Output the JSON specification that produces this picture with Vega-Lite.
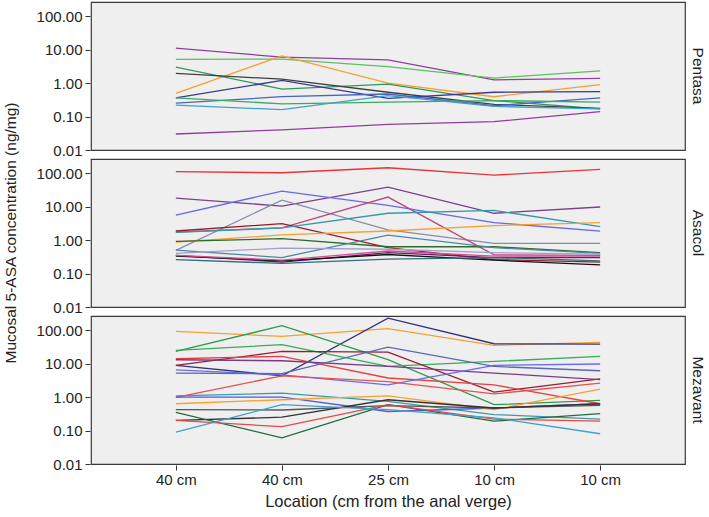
{
  "$schema": "https://vega.github.io/schema/vega-lite/v6.json",
  "padding": {"left": 3, "top": 1, "right": 0, "bottom": 2},
  "background": "white",
  "config": {
    "font": "Liberation Sans",
    "view": {"fill": "#EFEFEF", "stroke": "#3A3A3A", "strokeWidth": 1.2},
    "axis": {"grid": false, "domain": false, "tickColor": "#333333", "tickSize": 5, "labelColor": "#222222", "labelFontSize": 15, "labelFont": "Liberation Sans", "titleFont": "Liberation Sans", "titleFontSize": 16.5, "titleFontWeight": "normal", "titleColor": "#222222", "labelPadding": 3},
    "header": {"labelFont": "Liberation Sans", "labelFontSize": 15.5, "labelColor": "#222222", "titleFont": "Liberation Sans", "titleFontSize": 15.5, "titleFontWeight": "normal", "titleColor": "#222222"}
  },
  "data": {"values": [
    {"drug":"Pentasa","id":"P1","pos":1,"value":11.1},{"drug":"Pentasa","id":"P1","pos":2,"value":5.9},{"drug":"Pentasa","id":"P1","pos":3,"value":4.9},{"drug":"Pentasa","id":"P1","pos":4,"value":1.25},{"drug":"Pentasa","id":"P1","pos":5,"value":1.38},
    {"drug":"Pentasa","id":"P2","pos":1,"value":5.1},{"drug":"Pentasa","id":"P2","pos":2,"value":5.2},{"drug":"Pentasa","id":"P2","pos":3,"value":3.1},{"drug":"Pentasa","id":"P2","pos":4,"value":1.41},{"drug":"Pentasa","id":"P2","pos":5,"value":2.3},
    {"drug":"Pentasa","id":"P3","pos":1,"value":0.49},{"drug":"Pentasa","id":"P3","pos":2,"value":6.5},{"drug":"Pentasa","id":"P3","pos":3,"value":1.0},{"drug":"Pentasa","id":"P3","pos":4,"value":0.39},{"drug":"Pentasa","id":"P3","pos":5,"value":0.89},
    {"drug":"Pentasa","id":"P4","pos":1,"value":3.0},{"drug":"Pentasa","id":"P4","pos":2,"value":0.66},{"drug":"Pentasa","id":"P4","pos":3,"value":0.93},{"drug":"Pentasa","id":"P4","pos":4,"value":0.3},{"drug":"Pentasa","id":"P4","pos":5,"value":0.17},
    {"drug":"Pentasa","id":"P5","pos":1,"value":1.94},{"drug":"Pentasa","id":"P5","pos":2,"value":1.3},{"drug":"Pentasa","id":"P5","pos":3,"value":0.53},{"drug":"Pentasa","id":"P5","pos":4,"value":0.23},{"drug":"Pentasa","id":"P5","pos":5,"value":0.175},
    {"drug":"Pentasa","id":"P6","pos":1,"value":0.36},{"drug":"Pentasa","id":"P6","pos":2,"value":1.2},{"drug":"Pentasa","id":"P6","pos":3,"value":0.35},{"drug":"Pentasa","id":"P6","pos":4,"value":0.53},{"drug":"Pentasa","id":"P6","pos":5,"value":0.55},
    {"drug":"Pentasa","id":"P7","pos":1,"value":0.25},{"drug":"Pentasa","id":"P7","pos":2,"value":0.39},{"drug":"Pentasa","id":"P7","pos":3,"value":0.47},{"drug":"Pentasa","id":"P7","pos":4,"value":0.21},{"drug":"Pentasa","id":"P7","pos":5,"value":0.36},
    {"drug":"Pentasa","id":"P8","pos":1,"value":0.36},{"drug":"Pentasa","id":"P8","pos":2,"value":0.24},{"drug":"Pentasa","id":"P8","pos":3,"value":0.27},{"drug":"Pentasa","id":"P8","pos":4,"value":0.3},{"drug":"Pentasa","id":"P8","pos":5,"value":0.27},
    {"drug":"Pentasa","id":"P9","pos":1,"value":0.22},{"drug":"Pentasa","id":"P9","pos":2,"value":0.16},{"drug":"Pentasa","id":"P9","pos":3,"value":0.42},{"drug":"Pentasa","id":"P9","pos":4,"value":0.2},{"drug":"Pentasa","id":"P9","pos":5,"value":0.17},
    {"drug":"Pentasa","id":"P10","pos":1,"value":0.03},{"drug":"Pentasa","id":"P10","pos":2,"value":0.04},{"drug":"Pentasa","id":"P10","pos":3,"value":0.058},{"drug":"Pentasa","id":"P10","pos":4,"value":0.07},{"drug":"Pentasa","id":"P10","pos":5,"value":0.14},

    {"drug":"Asacol","id":"A1","pos":1,"value":110},{"drug":"Asacol","id":"A1","pos":2,"value":102},{"drug":"Asacol","id":"A1","pos":3,"value":144},{"drug":"Asacol","id":"A1","pos":4,"value":87},{"drug":"Asacol","id":"A1","pos":5,"value":129},
    {"drug":"Asacol","id":"A2","pos":1,"value":17.9},{"drug":"Asacol","id":"A2","pos":2,"value":10.3},{"drug":"Asacol","id":"A2","pos":3,"value":38},{"drug":"Asacol","id":"A2","pos":4,"value":6.3},{"drug":"Asacol","id":"A2","pos":5,"value":9.7},
    {"drug":"Asacol","id":"A3","pos":1,"value":5.5},{"drug":"Asacol","id":"A3","pos":2,"value":29},{"drug":"Asacol","id":"A3","pos":3,"value":10.8},{"drug":"Asacol","id":"A3","pos":4,"value":3.3},{"drug":"Asacol","id":"A3","pos":5,"value":1.85},
    {"drug":"Asacol","id":"A4","pos":1,"value":0.49},{"drug":"Asacol","id":"A4","pos":2,"value":15.6},{"drug":"Asacol","id":"A4","pos":3,"value":2.0},{"drug":"Asacol","id":"A4","pos":4,"value":0.8},{"drug":"Asacol","id":"A4","pos":5,"value":0.8},
    {"drug":"Asacol","id":"A5","pos":1,"value":1.74},{"drug":"Asacol","id":"A5","pos":2,"value":2.3},{"drug":"Asacol","id":"A5","pos":3,"value":19.2},{"drug":"Asacol","id":"A5","pos":4,"value":0.36},{"drug":"Asacol","id":"A5","pos":5,"value":0.35},
    {"drug":"Asacol","id":"A6","pos":1,"value":1.86},{"drug":"Asacol","id":"A6","pos":2,"value":3.1},{"drug":"Asacol","id":"A6","pos":3,"value":0.59},{"drug":"Asacol","id":"A6","pos":4,"value":0.26},{"drug":"Asacol","id":"A6","pos":5,"value":0.22},
    {"drug":"Asacol","id":"A7","pos":1,"value":1.7},{"drug":"Asacol","id":"A7","pos":2,"value":2.3},{"drug":"Asacol","id":"A7","pos":3,"value":6.3},{"drug":"Asacol","id":"A7","pos":4,"value":7.7},{"drug":"Asacol","id":"A7","pos":5,"value":2.5},
    {"drug":"Asacol","id":"A8","pos":1,"value":0.87},{"drug":"Asacol","id":"A8","pos":2,"value":1.42},{"drug":"Asacol","id":"A8","pos":3,"value":1.86},{"drug":"Asacol","id":"A8","pos":4,"value":2.7},{"drug":"Asacol","id":"A8","pos":5,"value":3.3},
    {"drug":"Asacol","id":"A9","pos":1,"value":0.91},{"drug":"Asacol","id":"A9","pos":2,"value":1.1},{"drug":"Asacol","id":"A9","pos":3,"value":0.63},{"drug":"Asacol","id":"A9","pos":4,"value":0.63},{"drug":"Asacol","id":"A9","pos":5,"value":0.42},
    {"drug":"Asacol","id":"A10","pos":1,"value":0.5},{"drug":"Asacol","id":"A10","pos":2,"value":0.3},{"drug":"Asacol","id":"A10","pos":3,"value":1.4},{"drug":"Asacol","id":"A10","pos":4,"value":0.59},{"drug":"Asacol","id":"A10","pos":5,"value":0.4},
    {"drug":"Asacol","id":"A11","pos":1,"value":0.4},{"drug":"Asacol","id":"A11","pos":2,"value":0.57},{"drug":"Asacol","id":"A11","pos":3,"value":0.53},{"drug":"Asacol","id":"A11","pos":4,"value":0.42},{"drug":"Asacol","id":"A11","pos":5,"value":0.38},
    {"drug":"Asacol","id":"A12","pos":1,"value":0.35},{"drug":"Asacol","id":"A12","pos":2,"value":0.22},{"drug":"Asacol","id":"A12","pos":3,"value":0.42},{"drug":"Asacol","id":"A12","pos":4,"value":0.3},{"drug":"Asacol","id":"A12","pos":5,"value":0.3},
    {"drug":"Asacol","id":"A13","pos":1,"value":0.33},{"drug":"Asacol","id":"A13","pos":2,"value":0.24},{"drug":"Asacol","id":"A13","pos":3,"value":0.37},{"drug":"Asacol","id":"A13","pos":4,"value":0.25},{"drug":"Asacol","id":"A13","pos":5,"value":0.18},
    {"drug":"Asacol","id":"A14","pos":1,"value":0.26},{"drug":"Asacol","id":"A14","pos":2,"value":0.2},{"drug":"Asacol","id":"A14","pos":3,"value":0.27},{"drug":"Asacol","id":"A14","pos":4,"value":0.3},{"drug":"Asacol","id":"A14","pos":5,"value":0.24},
    {"drug":"Asacol","id":"A15","pos":1,"value":0.35},{"drug":"Asacol","id":"A15","pos":2,"value":0.25},{"drug":"Asacol","id":"A15","pos":3,"value":0.47},{"drug":"Asacol","id":"A15","pos":4,"value":0.33},{"drug":"Asacol","id":"A15","pos":5,"value":0.33},

    {"drug":"Mezavant","id":"M1","pos":1,"value":91},{"drug":"Mezavant","id":"M1","pos":2,"value":65},{"drug":"Mezavant","id":"M1","pos":3,"value":110},{"drug":"Mezavant","id":"M1","pos":4,"value":35},{"drug":"Mezavant","id":"M1","pos":5,"value":43},
    {"drug":"Mezavant","id":"M2","pos":1,"value":8.8},{"drug":"Mezavant","id":"M2","pos":2,"value":4.3},{"drug":"Mezavant","id":"M2","pos":3,"value":228},{"drug":"Mezavant","id":"M2","pos":4,"value":39},{"drug":"Mezavant","id":"M2","pos":5,"value":38},
    {"drug":"Mezavant","id":"M3","pos":1,"value":23},{"drug":"Mezavant","id":"M3","pos":2,"value":135},{"drug":"Mezavant","id":"M3","pos":3,"value":13},{"drug":"Mezavant","id":"M3","pos":4,"value":0.59},{"drug":"Mezavant","id":"M3","pos":5,"value":0.8},
    {"drug":"Mezavant","id":"M4","pos":1,"value":24.7},{"drug":"Mezavant","id":"M4","pos":2,"value":36.5},{"drug":"Mezavant","id":"M4","pos":3,"value":8.2},{"drug":"Mezavant","id":"M4","pos":4,"value":11.6},{"drug":"Mezavant","id":"M4","pos":5,"value":16.4},
    {"drug":"Mezavant","id":"M5","pos":1,"value":8.8},{"drug":"Mezavant","id":"M5","pos":2,"value":23},{"drug":"Mezavant","id":"M5","pos":3,"value":22},{"drug":"Mezavant","id":"M5","pos":4,"value":1.41},{"drug":"Mezavant","id":"M5","pos":5,"value":3.5},
    {"drug":"Mezavant","id":"M6","pos":1,"value":13.9},{"drug":"Mezavant","id":"M6","pos":2,"value":16.4},{"drug":"Mezavant","id":"M6","pos":3,"value":3.7},{"drug":"Mezavant","id":"M6","pos":4,"value":2.3},{"drug":"Mezavant","id":"M6","pos":5,"value":0.63},
    {"drug":"Mezavant","id":"M7","pos":1,"value":13},{"drug":"Mezavant","id":"M7","pos":2,"value":12.1},{"drug":"Mezavant","id":"M7","pos":3,"value":8.2},{"drug":"Mezavant","id":"M7","pos":4,"value":5.2},{"drug":"Mezavant","id":"M7","pos":5,"value":3.3},
    {"drug":"Mezavant","id":"M8","pos":1,"value":6.5},{"drug":"Mezavant","id":"M8","pos":2,"value":4.6},{"drug":"Mezavant","id":"M8","pos":3,"value":2.3},{"drug":"Mezavant","id":"M8","pos":4,"value":8.8},{"drug":"Mezavant","id":"M8","pos":5,"value":9.7},
    {"drug":"Mezavant","id":"M9","pos":1,"value":5.2},{"drug":"Mezavant","id":"M9","pos":2,"value":5.0},{"drug":"Mezavant","id":"M9","pos":3,"value":31},{"drug":"Mezavant","id":"M9","pos":4,"value":8.2},{"drug":"Mezavant","id":"M9","pos":5,"value":6.1},
    {"drug":"Mezavant","id":"M10","pos":1,"value":0.98},{"drug":"Mezavant","id":"M10","pos":2,"value":4.3},{"drug":"Mezavant","id":"M10","pos":3,"value":2.9},{"drug":"Mezavant","id":"M10","pos":4,"value":1.24},{"drug":"Mezavant","id":"M10","pos":5,"value":2.6},
    {"drug":"Mezavant","id":"M11","pos":1,"value":1.09},{"drug":"Mezavant","id":"M11","pos":2,"value":1.3},{"drug":"Mezavant","id":"M11","pos":3,"value":0.74},{"drug":"Mezavant","id":"M11","pos":4,"value":0.3},{"drug":"Mezavant","id":"M11","pos":5,"value":0.22},
    {"drug":"Mezavant","id":"M12","pos":1,"value":1.0},{"drug":"Mezavant","id":"M12","pos":2,"value":1.0},{"drug":"Mezavant","id":"M12","pos":3,"value":0.37},{"drug":"Mezavant","id":"M12","pos":4,"value":0.47},{"drug":"Mezavant","id":"M12","pos":5,"value":0.63},
    {"drug":"Mezavant","id":"M13","pos":1,"value":0.63},{"drug":"Mezavant","id":"M13","pos":2,"value":0.83},{"drug":"Mezavant","id":"M13","pos":3,"value":1.09},{"drug":"Mezavant","id":"M13","pos":4,"value":0.42},{"drug":"Mezavant","id":"M13","pos":5,"value":1.73},
    {"drug":"Mezavant","id":"M14","pos":1,"value":0.42},{"drug":"Mezavant","id":"M14","pos":2,"value":0.41},{"drug":"Mezavant","id":"M14","pos":3,"value":0.55},{"drug":"Mezavant","id":"M14","pos":4,"value":0.47},{"drug":"Mezavant","id":"M14","pos":5,"value":0.56},
    {"drug":"Mezavant","id":"M15","pos":1,"value":0.2},{"drug":"Mezavant","id":"M15","pos":2,"value":0.25},{"drug":"Mezavant","id":"M15","pos":3,"value":0.83},{"drug":"Mezavant","id":"M15","pos":4,"value":0.47},{"drug":"Mezavant","id":"M15","pos":5,"value":0.63},
    {"drug":"Mezavant","id":"M16","pos":1,"value":0.35},{"drug":"Mezavant","id":"M16","pos":2,"value":0.06},{"drug":"Mezavant","id":"M16","pos":3,"value":0.59},{"drug":"Mezavant","id":"M16","pos":4,"value":0.19},{"drug":"Mezavant","id":"M16","pos":5,"value":0.32},
    {"drug":"Mezavant","id":"M17","pos":1,"value":0.2},{"drug":"Mezavant","id":"M17","pos":2,"value":0.13},{"drug":"Mezavant","id":"M17","pos":3,"value":0.59},{"drug":"Mezavant","id":"M17","pos":4,"value":0.22},{"drug":"Mezavant","id":"M17","pos":5,"value":0.19},
    {"drug":"Mezavant","id":"M18","pos":1,"value":0.09},{"drug":"Mezavant","id":"M18","pos":2,"value":0.59},{"drug":"Mezavant","id":"M18","pos":3,"value":0.42},{"drug":"Mezavant","id":"M18","pos":4,"value":0.24},{"drug":"Mezavant","id":"M18","pos":5,"value":0.08}
  ]},
  "facet": {
    "row": {
      "field": "drug", "type": "nominal", "sort": ["Pentasa", "Asacol", "Mezavant"],
      "title": "Mucosal 5-ASA concentration (ng/mg)",
      "header": {"titleOrient": "left", "titlePadding": 7, "labelOrient": "right", "labelAngle": 90, "labelPadding": 3, "labelFontSize": 15.5}
    }
  },
  "spacing": {"row": 7},
  "spec": {
    "width": 594,
    "height": 148,
    "mark": {"type": "line", "strokeWidth": 1.3, "clip": true},
    "encoding": {
      "x": {"field": "pos", "type": "quantitative",
        "scale": {"domain": [0.2, 5.8], "nice": false, "zero": false},
        "axis": {"values": [1, 2, 3, 4, 5], "labelExpr": "['', '40 cm', '40 cm', '25 cm', '10 cm', '10 cm'][datum.value]", "title": "Location (cm from the anal verge)", "titlePadding": 6, "labelPadding": 2}},
      "y": {"field": "value", "type": "quantitative",
        "scale": {"type": "log", "domain": [0.01, 263], "nice": false},
        "axis": {"values": [0.01, 0.1, 1, 10, 100], "format": ".2f", "title": null}},
      "color": {"field": "id", "type": "nominal", "legend": null,
        "scale": {
          "domain": ["P1","P2","P3","P4","P5","P6","P7","P8","P9","P10","A1","A2","A3","A4","A5","A6","A7","A8","A9","A10","A11","A12","A13","A14","A15","M1","M2","M3","M4","M5","M6","M7","M8","M9","M10","M11","M12","M13","M14","M15","M16","M17","M18"],
          "range": ["#8E3E9E","#5CC05C","#F5A030","#2E9A5A","#404040","#3A3A8A","#4466BB","#3AAA60","#40A0D0","#8E3E9E","#E8333A","#7B3F8C","#6666EE","#8A8AAA","#C04880","#9B1B20","#3399AA","#F5A030","#2E6B2E","#4A8AA0","#A0A0D0","#6A1B6A","#111111","#2E6E7E","#D05090","#F5A030","#33337A","#2E9B4E","#3AAA5A","#9B1B30","#E84040","#7A3A8A","#6A6AEE","#5A6AB0","#E85050","#3A9AAA","#5555DD","#F5A030","#555555","#333333","#1E6B3E","#E84848","#40A0CC"]
        }},
      "detail": {"field": "id"}
    }
  }
}
